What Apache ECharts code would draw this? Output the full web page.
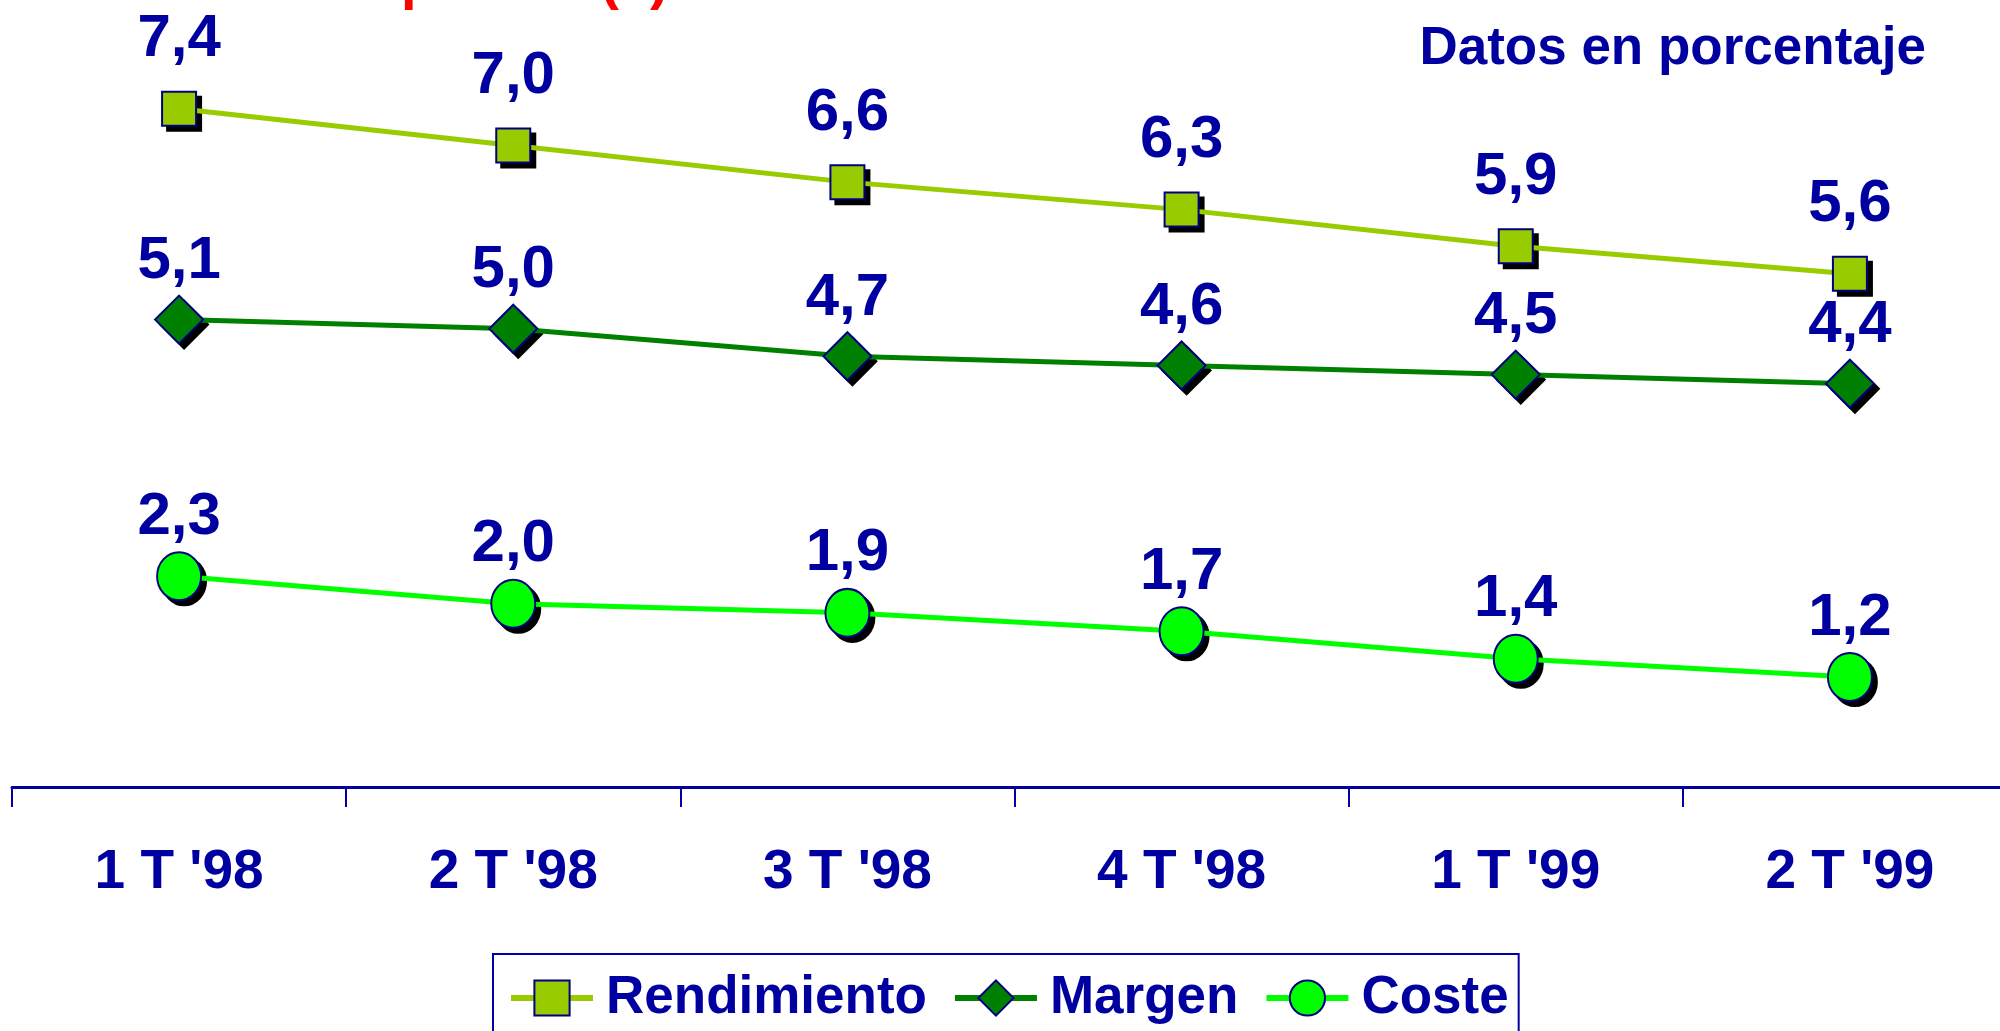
<!DOCTYPE html>
<html>
<head>
<meta charset="utf-8">
<script src="https://cdn.jsdelivr.net/npm/echarts@6/dist/echarts.min.js"></script>
<style>
html,body{margin:0;padding:0;background:#fff;}
#chart{width:2000px;height:1031px;}
</style>
</head>
<body>
<div id="chart"></div>
<script>
const categories = ["1 T '98", "2 T '98", "3 T '98", "4 T '98", "1 T '99", "2 T '99"];
const rendimiento = [7.4, 7.0, 6.6, 6.3, 5.9, 5.6];
const margen = [5.1, 5.0, 4.7, 4.6, 4.5, 4.4];
const coste = [2.3, 2.0, 1.9, 1.7, 1.4, 1.2];
const seriesNames = ['Rendimiento', 'Margen', 'Coste'];
const subtitleText = 'Datos en porcentaje';
const titleText = 'Rentabilidad comparada (1)';

const FONT = '"Liberation Sans", Arial, sans-serif';
const NAVY = '#0000A0';

const fmt = p => Number(p.value).toFixed(1).replace('.', ',');

function measure(txt, size) {
  const c = document.createElement('canvas').getContext('2d');
  c.font = 'bold ' + size + 'px ' + FONT;
  return c.measureText(txt).width;
}
const titleSize = 56;
const titleX = 401 - measure('Rentabilidad com', titleSize);

function mkSeries(name, data, color, symbol, size, dist) {
  return {
    name: name,
    type: 'line',
    data: data,
    symbol: symbol,
    symbolSize: size,
    showAllSymbol: true,
    lineStyle: { color: color, width: 5 },
    itemStyle: {
      color: color,
      borderColor: '#000080',
      borderWidth: 2,
      opacity: 1
    },
    label: {
      show: true,
      position: 'top',
      distance: dist,
      formatter: fmt,
      color: NAVY,
      fontFamily: FONT,
      fontWeight: 'bold',
      fontSize: 60,
      lineHeight: 60
    },
    emphasis: { disabled: true },
    animation: false,
    z: 3
  };
}

function mkShadow(data, symbol, size) {
  return {
    type: 'scatter',
    data: data,
    symbol: symbol,
    symbolSize: size,
    symbolOffset: [5, 5],
    itemStyle: { color: '#000', borderColor: '#000', borderWidth: 2, opacity: 1 },
    silent: true,
    emphasis: { disabled: true },
    tooltip: { show: false },
    animation: false,
    z: 2
  };
}

const chart = echarts.init(document.getElementById('chart'));
chart.setOption({
  animation: false,
  backgroundColor: '#fff',
  title: {
    text: subtitleText,
    right: 69,
    top: 16,
    textStyle: {
      color: NAVY,
      fontFamily: FONT,
      fontWeight: 'bold',
      fontSize: 53,
      lineHeight: 56,
      textShadowColor: '#A8A8A8',
      textShadowOffsetX: 3,
      textShadowOffsetY: 3,
      textShadowBlur: 0
    }
  },
  graphic: [{
    type: 'text',
    x: titleX,
    y: -17,
    style: {
      text: titleText,
      fill: '#FF0000',
      font: 'bold ' + titleSize + 'px ' + FONT,
      verticalAlign: 'middle'
    },
    z: 10
  }],
  legend: {
    data: seriesNames,
    left: 493,
    top: 954,
    orient: 'horizontal',
    backgroundColor: '#fff',
    borderColor: NAVY,
    borderWidth: 2,
    padding: [16, 10, 30, 15],
    itemGap: 25,
    itemWidth: 82,
    itemHeight: 44,
    lineStyle: { width: 6 },
    itemStyle: { borderColor: '#000080', borderWidth: 2 },
    textStyle: {
      color: NAVY,
      fontFamily: FONT,
      fontWeight: 'bold',
      fontSize: 53,
      lineHeight: 56,
      padding: [0, 0, 0, 8]
    }
  },
  grid: { left: 12, width: 2005, top: 8, bottom: 244, outerBoundsMode: 'none', containLabel: false },
  xAxis: {
    type: 'category',
    data: categories,
    boundaryGap: true,
    axisLine: { show: true, lineStyle: { color: NAVY, width: 3 } },
    axisTick: { show: true, length: 20, lineStyle: { color: NAVY, width: 2 } },
    axisLabel: {
      color: NAVY,
      fontFamily: FONT,
      fontWeight: 'bold',
      fontSize: 55,
      lineHeight: 56,
      margin: 58,
      interval: 0
    },
    splitLine: { show: false }
  },
  yAxis: {
    type: 'value',
    min: 0,
    max: 8.5,
    show: false,
    splitLine: { show: false }
  },
  series: [
    mkShadow(rendimiento, 'rect', 34),
    mkShadow(margen, 'diamond', 48),
    mkShadow(coste, 'circle', [44, 48]),
    mkSeries(seriesNames[0], rendimiento, '#99CC00', 'rect', 34, 21),
    mkSeries(seriesNames[1], margen, '#008000', 'diamond', 48, 3),
    mkSeries(seriesNames[2], coste, '#00FF00', 'circle', [44, 48], 4)
  ]
});
</script>
</body>
</html>
